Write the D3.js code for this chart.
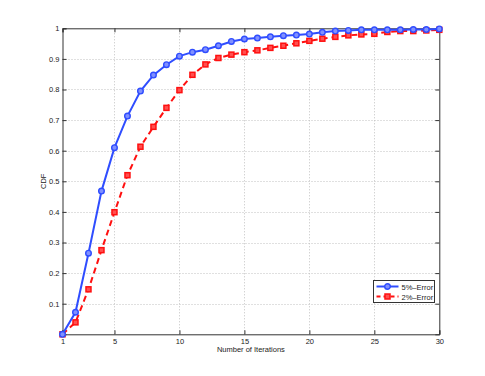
<!DOCTYPE html>
<html>
<head>
<meta charset="utf-8">
<script src="https://cdn.jsdelivr.net/npm/d3@7"></script>
<style>
  body { margin: 0; background: #fff; }
  svg text { font-family: "Liberation Sans", Arial, sans-serif; }
</style>
</head>
<body>
<div id="chart"></div>
<script>
// iterations 1..30
const iterations = d3.range(1, 31);
const err5 = [0, 0.072, 0.265, 0.468, 0.61, 0.713, 0.795, 0.847, 0.881, 0.909,
  0.922, 0.93, 0.943, 0.957, 0.965, 0.968, 0.972, 0.976, 0.978, 0.981,
  0.987, 0.991, 0.993, 0.995, 0.995, 0.995, 0.995, 0.996, 0.996, 0.998];
const err2 = [0, 0.039, 0.147, 0.275, 0.399, 0.52, 0.613, 0.678, 0.74, 0.798,
  0.848, 0.882, 0.903, 0.914, 0.922, 0.928, 0.936, 0.943, 0.951, 0.959,
  0.966, 0.972, 0.977, 0.98, 0.982, 0.988, 0.991, 0.991, 0.993, 0.995];
const xTicks = [1, 5, 10, 15, 20, 25, 30];
const yTicks = [0.1, 0.2, 0.3, 0.4, 0.5, 0.6, 0.7, 0.8, 0.9, 1];
const seriesNames = ["5%\u2013Error", "2%\u2013Error"];

const width = 485, height = 376;
const margin = {left: 62.5, right: 485 - 439.3, top: 28.3, bottom: 376 - 334.3};
const fs = 7.5;

const svg = d3.select("#chart").append("svg")
  .attr("width", width)
  .attr("height", height);

const x = d3.scaleLinear().domain([1, 30]).range([margin.left, width - margin.right]);
const y = d3.scaleLinear().domain([0, 1]).range([height - margin.bottom, margin.top]);

const x0 = x.range()[0], x1 = x.range()[1];
const y0 = y.range()[0], y1 = y.range()[1];

// grid
const grid = svg.append("g")
  .attr("stroke", "#c0c0c0")
  .attr("stroke-width", 1)
  .attr("stroke-dasharray", "1,2");
grid.selectAll("line.gx")
  .data(xTicks.filter(d => d > 1 && d < 30))
  .enter().append("line")
  .attr("x1", d => Math.round(x(d)) + 0.5).attr("x2", d => Math.round(x(d)) + 0.5)
  .attr("y1", y0).attr("y2", y1);
grid.selectAll("line.gy")
  .data(yTicks.filter(d => d < 1))
  .enter().append("line")
  .attr("y1", d => Math.round(y(d)) + 0.5).attr("y2", d => Math.round(y(d)) + 0.5)
  .attr("x1", x0).attr("x2", x1);

// axes
svg.append("g")
  .attr("transform", `translate(0,${y0})`)
  .call(d3.axisBottom(x).tickValues(xTicks).tickSize(-4).tickPadding(4).tickFormat(d3.format("d")));
svg.append("g")
  .attr("transform", `translate(${x0},0)`)
  .call(d3.axisLeft(y).tickValues(yTicks).tickSize(-4).tickPadding(3)
    .tickFormat(d => d === 1 ? "1" : d3.format(".1f")(d)));
svg.append("g")
  .attr("transform", `translate(0,${y1})`)
  .call(d3.axisTop(x).tickValues(xTicks).tickSize(-4).tickFormat(""));
svg.append("g")
  .attr("transform", `translate(${x1},0)`)
  .call(d3.axisRight(y).tickValues(yTicks).tickSize(-4).tickFormat(""));

svg.selectAll(".domain").attr("stroke", "#333");
svg.selectAll(".tick line").attr("stroke", "#333");
svg.selectAll(".tick text").attr("fill", "#222").attr("font-size", fs)
  .attr("font-family", "Liberation Sans, Arial, sans-serif");

// labels
svg.append("text")
  .attr("x", (x0 + x1) / 2).attr("y", 352.3)
  .attr("text-anchor", "middle").attr("font-size", fs).attr("fill", "#222")
  .text("Number of Iterations");
svg.append("text")
  .attr("transform", `translate(45.8,${(y0 + y1) / 2}) rotate(-90)`)
  .attr("text-anchor", "middle").attr("font-size", fs).attr("fill", "#222")
  .text("CDF");

const blue = "#2f4dff", red = "#ff1010";

const line = d3.line().x((d, i) => x(iterations[i])).y(d => y(d));

// 2% error (red dashed, squares)
svg.append("path")
  .datum(err2)
  .attr("fill", "none").attr("stroke", red).attr("stroke-width", 2)
  .attr("stroke-dasharray", "6,4")
  .attr("d", line);
svg.append("g").selectAll("rect")
  .data(err2).enter().append("rect")
  .attr("x", (d, i) => x(iterations[i]) - 2.5)
  .attr("y", d => y(d) - 2.5)
  .attr("width", 5).attr("height", 5)
  .attr("fill", "#ff5050").attr("stroke", red).attr("stroke-width", 1.5);

// 5% error (blue solid, circles)
svg.append("path")
  .datum(err5)
  .attr("fill", "none").attr("stroke", blue).attr("stroke-width", 2)
  .attr("d", line);
svg.append("g").selectAll("circle")
  .data(err5).enter().append("circle")
  .attr("cx", (d, i) => x(iterations[i]))
  .attr("cy", d => y(d))
  .attr("r", 2.8)
  .attr("fill", "#8090ff").attr("stroke", blue).attr("stroke-width", 1.4);

// legend
const lg = svg.append("g").attr("transform", "translate(373.5,280.5)");
lg.append("rect").attr("width", 61).attr("height", 22)
  .attr("fill", "#fff").attr("stroke", "#333").attr("stroke-width", 1);
const entries = [
  {name: seriesNames[0], color: blue, dash: null, marker: "circle"},
  {name: seriesNames[1], color: red, dash: "4,3", marker: "rect"}
];
entries.forEach((e, i) => {
  const g = lg.append("g").attr("transform", `translate(0,${6 + i * 10})`);
  g.append("line").attr("x1", 3).attr("x2", 25).attr("y1", 0).attr("y2", 0)
    .attr("stroke", e.color).attr("stroke-width", 2)
    .attr("stroke-dasharray", e.dash);
  if (e.marker === "circle") {
    g.append("circle").attr("cx", 14).attr("cy", 0).attr("r", 2.8)
      .attr("fill", "#8090ff").attr("stroke", e.color).attr("stroke-width", 1.4);
  } else {
    g.append("rect").attr("x", 11.5).attr("y", -2.5).attr("width", 5).attr("height", 5)
      .attr("fill", "#ff5050").attr("stroke", e.color).attr("stroke-width", 1.5);
  }
  g.append("text").attr("x", 28).attr("y", 3).attr("font-size", fs).attr("fill", "#222")
    .text(e.name);
});
</script>
</body>
</html>
